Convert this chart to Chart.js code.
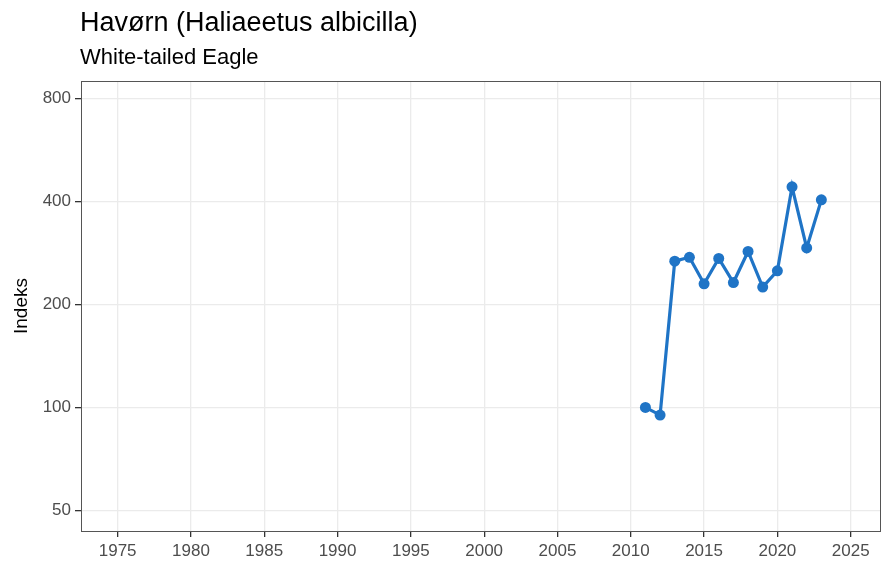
<!DOCTYPE html>
<html>
<head>
<meta charset="utf-8">
<script src="https://cdn.jsdelivr.net/npm/chart.js@4"></script>
<style>
  html, body { margin: 0; padding: 0; background: #fff; }
  #wrap { width: 881px; height: 562px; }
</style>
</head>
<body>
<div id="wrap"><canvas id="chart" width="881" height="562"></canvas></div>
<script>
// DATA
const years = [2011, 2012, 2013, 2014, 2015, 2016, 2017, 2018, 2019, 2020, 2021, 2022, 2023];
const indexValues = [100, 95, 268, 275, 230, 273, 232, 286, 225, 251, 442, 293, 405];
const xTicks = [1975, 1980, 1985, 1990, 1995, 2000, 2005, 2010, 2015, 2020, 2025];
const yTicks = [50, 100, 200, 400, 800];

const titleText = "Havørn (Haliaeetus albicilla)";
const subtitleText = "White-tailed Eagle";

// TITLE + PANEL BORDER
const decorations = {
  id: "decorations",
  afterDraw(chart) {
    const ctx = chart.ctx;
    const a = chart.chartArea;
    ctx.save();
    ctx.strokeStyle = "#555";
    ctx.lineWidth = 1;
    ctx.strokeRect(a.left + 0.5, a.top + 0.5, a.right - a.left, a.bottom - a.top);
    ctx.fillStyle = "#000";
    ctx.textBaseline = "alphabetic";
    ctx.font = "27px 'Liberation Sans', Arial, sans-serif";
    ctx.fillText(titleText, a.left - 1, 31);
    ctx.font = "22px 'Liberation Sans', Arial, sans-serif";
    ctx.fillText(subtitleText, a.left - 1, 64);
    ctx.restore();
  }
};

const tickFont = { family: "'Liberation Sans', Arial, sans-serif", size: 17 };

new Chart(document.getElementById("chart"), {
  type: "line",
  data: {
    datasets: [{
      data: years.map((y, i) => ({ x: y, y: indexValues[i] })),
      borderColor: "#1f74c6",
      backgroundColor: "#1f74c6",
      borderWidth: 3.2,
      pointRadius: 5.5,
      pointBorderWidth: 0,
      tension: 0
    }]
  },
  options: {
    responsive: false,
    animation: false,
    layout: { autoPadding: false, padding: { top: 81, left: 0, right: 1, bottom: 0 } },
    plugins: { legend: { display: false }, tooltip: { enabled: false } },
    scales: {
      x: {
        type: "linear",
        min: 1972.5,
        max: 2027,
        afterBuildTicks: s => { s.ticks = xTicks.map(v => ({ value: v })); },
        afterFit: s => { s.height = 31; },
        grid: { color: "#ebebeb", lineWidth: 1.3, tickColor: "#333", tickLength: 6 },
        border: { display: false },
        ticks: { color: "#4d4d4d", font: tickFont, padding: 4, autoSkip: false, maxRotation: 0, callback: v => String(v) }
      },
      y: {
        type: "logarithmic",
        min: 43.5,
        max: 902,
        afterBuildTicks: s => { s.ticks = yTicks.map(v => ({ value: v })); },
        afterFit: s => { s.width = 81; },
        grid: { color: "#ebebeb", lineWidth: 1.3, tickColor: "#333", tickLength: 6 },
        border: { display: false },
        title: { display: true, text: "Indeks", color: "#000", font: { family: "'Liberation Sans', Arial, sans-serif", size: 19 }, padding: { top: 10, bottom: 0 } },
        ticks: { color: "#4d4d4d", font: tickFont, padding: 4, callback: v => String(v) }
      }
    }
  },
  plugins: [decorations]
});
</script>
</body>
</html>
